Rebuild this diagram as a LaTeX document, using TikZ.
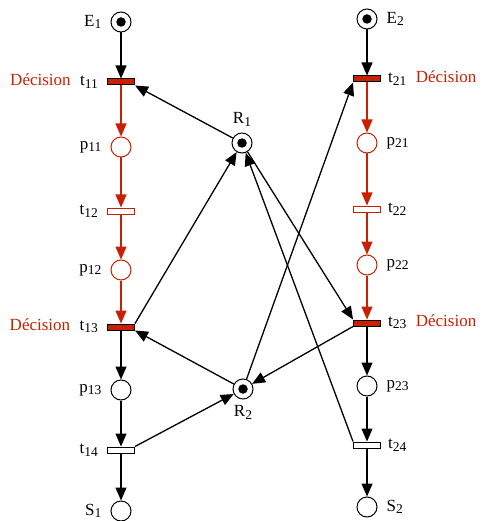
\documentclass[tikz,border=0pt]{standalone}
\usepackage{fontspec}
\setmainfont{Liberation Serif}
\usetikzlibrary{arrows.meta,positioning}
\definecolor{decisionred}{RGB}{200,32,0}
\newcommand{\ix}[1]{\raisebox{-2.5pt}{\fontsize{13.5}{14}\selectfont #1}}

\tikzset{
  lab/.style={font=\fontsize{17}{20}\selectfont, inner sep=1pt},
  declab/.style={lab, text=decisionred},
  place/.style={circle, draw, line width=1pt, fill=white, minimum size=20pt, inner sep=0pt},
  tok/.style={circle, fill, minimum size=9.5pt, inner sep=0pt},
  redplace/.style={place, draw=decisionred},
  trans/.style={rectangle, draw, line width=1pt, fill=white, minimum width=27pt, minimum height=6pt, inner sep=0pt},
  redtrans/.style={trans, draw=decisionred},
  decision/.style={trans, fill=decisionred},
  arc/.style={-{Triangle[length=13pt,width=11pt]}, line width=1.3pt},
  redarc/.style={arc, draw=decisionred}
}

\begin{document}
\begin{tikzpicture}[x=1pt, y=-1pt, node distance=8pt]
\useasboundingbox (0,0) rectangle (481,521);

% ressources partagees
\node[place] (R1) at (242,143) {};
\node[place] (R2) at (243,389) {};
\node[tok] (kR1) at (R1) {};
\node[tok] (kR2) at (R2) {};
\node[lab, above=5pt of R1] (lR1) {R\ix{1}};
\node[lab, below=5pt of R2] (lR2) {R\ix{2}};

% processus 1
\node[place] (E1) at (121,22) {};
\node[decision] (t11) at (121,82) {};
\node[redplace] (p11) at (121,147) {};
\node[redtrans] (t12) at (121,211) {};
\node[redplace] (p12) at (121,270) {};
\node[decision] (t13) at (121,327) {};
\node[place] (p13) at (121,390) {};
\node[trans] (t14) at (121,450) {};
\node[place] (S1) at (121,511) {};
\node[tok] (kE1) at (E1) {};

\node[lab, left=of E1] (lE1) {E\ix{1}};
\node[lab, left=of t11] (lt11) {t\ix{11}};
\node[lab, left=of p11] (lp11) {p\ix{11}};
\node[lab, left=of t12] (lt12) {t\ix{12}};
\node[lab, left=of p12] (lp12) {p\ix{12}};
\node[lab, left=of t13] (lt13) {t\ix{13}};
\node[lab, left=of p13] (lp13) {p\ix{13}};
\node[lab, left=of t14] (lt14) {t\ix{14}};
\node[lab, left=of S1] (lS1) {S\ix{1}};

% processus 2
\node[place] (E2) at (367,19) {};
\node[decision] (t21) at (367,79) {};
\node[redplace] (p21) at (367,143) {};
\node[redtrans] (t22) at (367,209) {};
\node[redplace] (p22) at (367,265) {};
\node[decision] (t23) at (367,323) {};
\node[place] (p23) at (367,386) {};
\node[trans] (t24) at (367,445) {};
\node[place] (S2) at (367,507) {};
\node[tok] (kE2) at (E2) {};

\node[lab, right=of E2] (lE2) {E\ix{2}};
\node[lab, right=6pt of t21] (lt21) {t\ix{21}};
\node[lab, right=of p21] (lp21) {p\ix{21}};
\node[lab, right=6pt of t22] (lt22) {t\ix{22}};
\node[lab, right=of p22] (lp22) {p\ix{22}};
\node[lab, right=6pt of t23] (lt23) {t\ix{23}};
\node[lab, right=of p23] (lp23) {p\ix{23}};
\node[lab, right=6pt of t24] (lt24) {t\ix{24}};
\node[lab, right=of S2] (lS2) {S\ix{2}};

% transitions de decision
\node[declab, anchor=base east] (dec11) at ([xshift=-7pt]lt11.base west) {Décision};
\node[declab, anchor=base east] (dec13) at ([xshift=-7pt]lt13.base west) {Décision};
\node[declab, anchor=base west] (dec21) at ([xshift=7pt]lt21.base east) {Décision};
\node[declab, anchor=base west] (dec23) at ([xshift=7pt]lt23.base east) {Décision};

% arcs processus 1
\draw[arc] (E1) -- (t11);
\draw[redarc] (t11) -- (p11);
\draw[redarc] (p11) -- (t12);
\draw[redarc] (t12) -- (p12);
\draw[redarc] (p12) -- (t13);
\draw[arc] (t13) -- (p13);
\draw[arc] (p13) -- (t14);
\draw[arc] (t14) -- (S1);

% arcs processus 2
\draw[arc] (E2) -- (t21);
\draw[redarc] (t21) -- (p21);
\draw[redarc] (p21) -- (t22);
\draw[redarc] (t22) -- (p22);
\draw[redarc] (p22) -- (t23);
\draw[arc] (t23) -- (p23);
\draw[arc] (p23) -- (t24);
\draw[arc] (t24) -- (S2);

% arcs des ressources
\draw[arc] (R1) -- (t11.south east);
\draw[arc] (t13.north east) -- (R1);
\draw[arc] (R2) -- (t13.south east);
\draw[arc] (t14.north east) -- (R2);
\draw[arc] (R1) -- (t23.north west);
\draw[arc] (t23.south west) -- (R2);
\draw[arc] (R2) -- (t21.south west);
\draw[arc] (t24.north west) -- (R1);

\end{tikzpicture}
\end{document}
